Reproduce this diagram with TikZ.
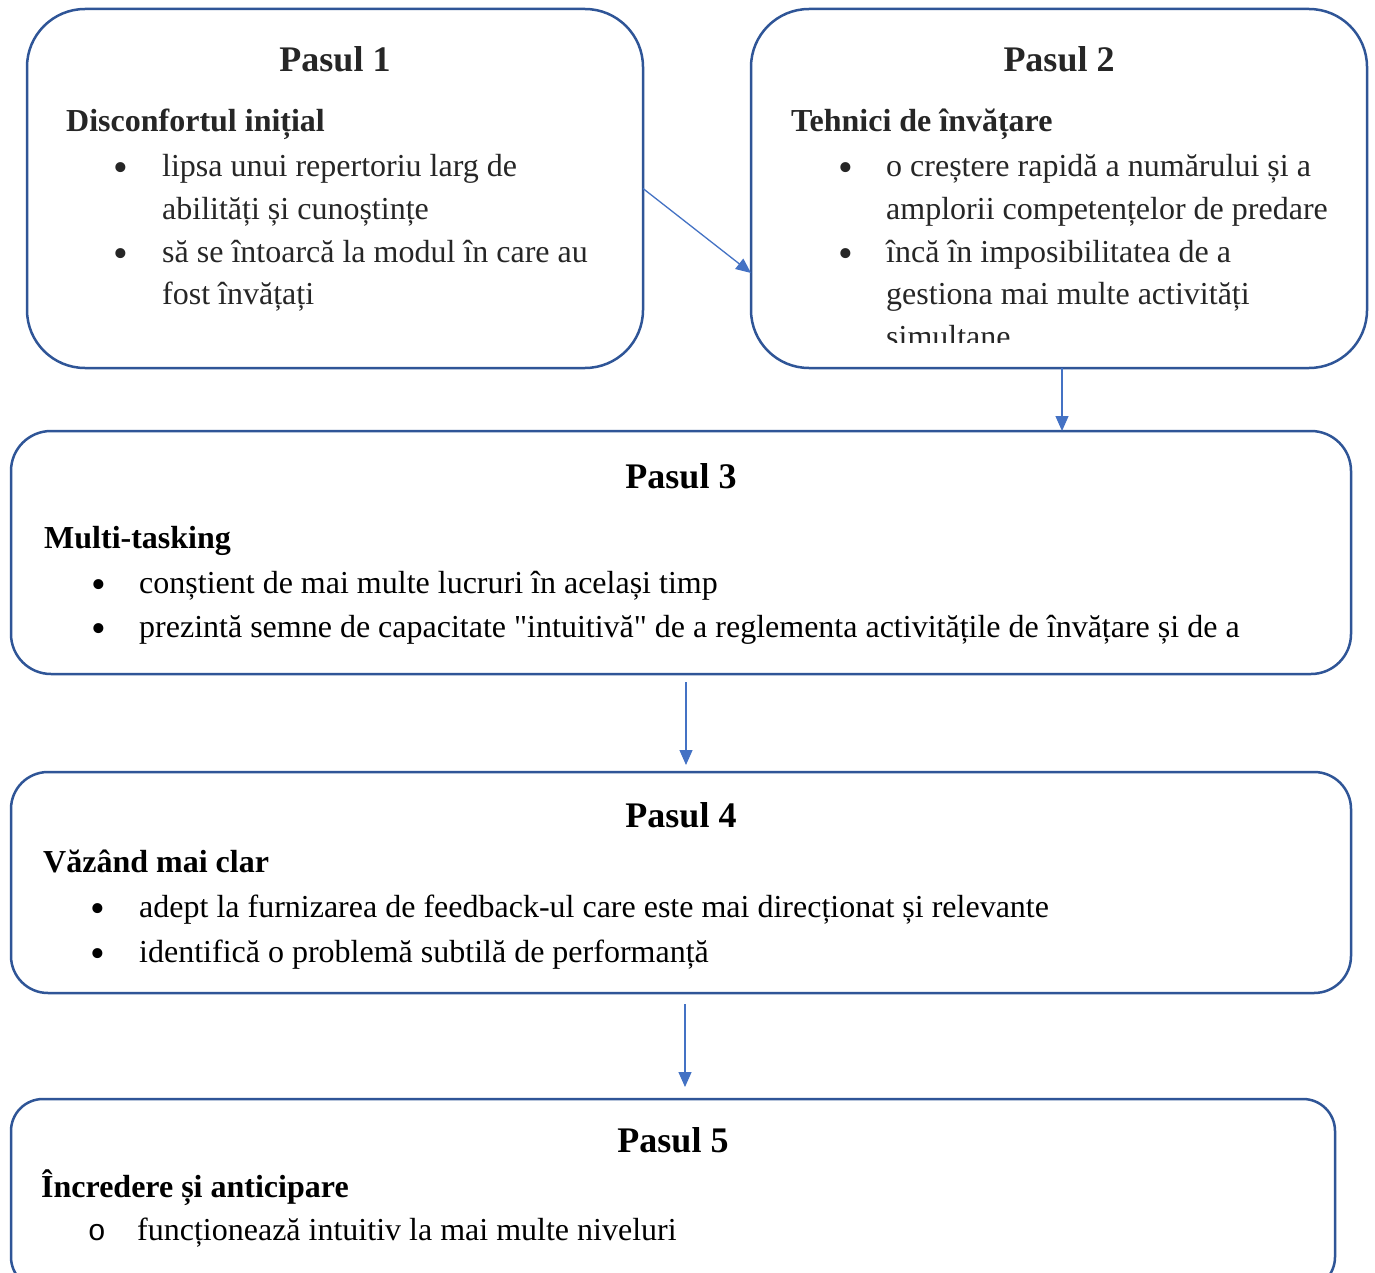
\documentclass[tikz,border=0pt]{standalone}
\usepackage{fontspec}
\setmainfont{Liberation Serif}[Ligatures=TeXOff]
\newfontfamily\monofont{Liberation Mono}
\usetikzlibrary{arrows.meta}
\definecolor{boxline}{HTML}{2F5597}
\definecolor{linkline}{HTML}{4472C4}
\definecolor{softink}{HTML}{262626}
\tikzset{
  stepbox/.style={draw=boxline, line width=2.5pt, fill=white, anchor=north west,
    inner sep=0pt, outer sep=0pt},
  steptitle/.style={anchor=base, inner sep=0pt, font=\fontsize{36}{36}\selectfont\bfseries},
  stephead/.style={anchor=base west, inner sep=0pt, font=\fontsize{32}{43}\selectfont\bfseries},
  stepline/.style={anchor=base west, inner sep=0pt, font=\fontsize{32}{43}\selectfont},
  bulletmark/.style={anchor=base, inner sep=0pt, font=\fontsize{42}{43}\selectfont},
  ringmark/.style={anchor=base, inner sep=0pt, font=\fontsize{30}{43}\selectfont\monofont},
  link/.style={draw=linkline, line width=1.3pt, -{Triangle[length=15pt,width=13pt]}},
}
\begin{document}
\begin{tikzpicture}[x=1pt, y=-1pt]
\clip (0,0) rectangle (1375,1273);
\fill[white] (0,0) rectangle (1375,1273);

% the five step boxes
\node[stepbox, rounded corners=58pt, minimum width=616pt, minimum height=359pt] (b1) at (27,9) {};
\node[stepbox, rounded corners=58pt, minimum width=616pt, minimum height=359pt] (b2) at (751,9) {};
\node[stepbox, rounded corners=40pt, minimum width=1340pt, minimum height=243pt] (b3) at (11,431) {};
\node[stepbox, rounded corners=37pt, minimum width=1340pt, minimum height=221pt] (b4) at (11,772) {};
\node[stepbox, rounded corners=32pt, minimum width=1324pt, minimum height=190pt] (b5) at (11,1099) {};

% connectors
\draw[link] (b1.east) -- (b2.west |- 0,273);
\draw[link] ([xshift=3pt]b2.south) -- ([xshift=3pt]b2.south |- b3.north);
\draw[link, shorten <=8pt, shorten >=7pt] ([xshift=5pt]b3.south) -- ([xshift=5pt]b3.south |- b4.north);
\draw[link, shorten <=11pt, shorten >=12pt] ([xshift=4pt]b4.south) -- ([xshift=4pt]b4.south |- b5.north);

% step 1
\begin{scope}[text=softink]
\node[steptitle] (t1) at (335,72) {Pasul 1};
\node[stephead] (h1) at (66,132) {Disconfortul inițial};
\node[bulletmark] (d11) at (121,182) {•};
\node[stepline] (l11) at (162,177) {lipsa unui repertoriu larg de};
\node[stepline] (l12) at (162,219.5) {abilități și cunoștințe};
\node[bulletmark] (d12) at (121,267) {•};
\node[stepline] (l13) at (162,262) {să se întoarcă la modul în care au};
\node[stepline] (l14) at (162,304.5) {fost învățați};
\end{scope}

% step 2
\begin{scope}[text=softink]
\node[steptitle] (t2) at (1059,72) {Pasul 2};
\node[stephead] (h2) at (791,132) {Tehnici de învățare};
\node[bulletmark] (d21) at (846,182) {•};
\node[stepline] (l21) at (886,177) {o creștere rapidă a numărului și a};
\node[stepline] (l22) at (886,219.5) {amplorii competențelor de predare};
\node[bulletmark] (d22) at (846,267) {•};
\node[stepline] (l23) at (886,262) {încă în imposibilitatea de a};
\node[stepline] (l24) at (886,304.5) {gestiona mai multe activități};
\begin{scope}
\clip (751,9) rectangle (1367,342);
\node[stepline] (l25) at (886,347) {simultane};
\end{scope}
\end{scope}

% step 3
\node[steptitle] (t3) at (681,488) {Pasul 3};
\node[stephead] (h3) at (44,548) {Multi-tasking};
\node[bulletmark] (d31) at (99,598) {•};
\node[stepline] (l31) at (139,593) {conștient de mai multe lucruri în același timp};
\node[bulletmark] (d32) at (99,642) {•};
\node[stepline] (l32) at (139,637) {prezintă semne de capacitate "intuitivă" de a reglementa activitățile de învățare și de a};

% step 4
\node[steptitle] (t4) at (681,827) {Pasul 4};
\node[stephead] (h4) at (43,872) {Văzând mai clar};
\node[bulletmark] (d41) at (98,922) {•};
\node[stepline] (l41) at (139,917) {adept la furnizarea de feedback-ul care este mai direcționat și relevante};
\node[bulletmark] (d42) at (98,967) {•};
\node[stepline] (l42) at (139,962) {identifică o problemă subtilă de performanță};

% step 5
\node[steptitle] (t5) at (673,1152) {Pasul 5};
\node[stephead] (h5) at (41,1197) {Încredere și anticipare};
\node[ringmark] (d51) at (97,1240) {o};
\node[stepline] (l51) at (137,1240) {funcționează intuitiv la mai multe niveluri};
\end{tikzpicture}
\end{document}
